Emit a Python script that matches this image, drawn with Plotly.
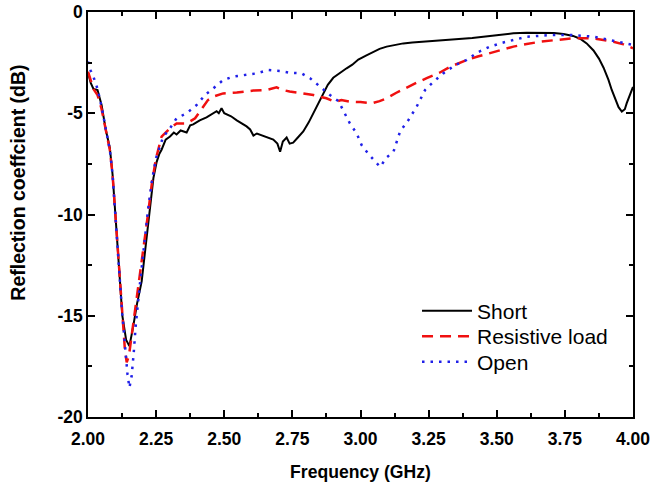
import plotly.graph_objects as go

short_f = [2.000,2.010,2.020,2.035,2.050,2.065,2.080,2.090,2.100,2.112,2.126,2.140,2.152,2.165,2.180,2.197,2.212,2.228,2.240,2.252,2.262,2.270,2.285,2.301,2.315,2.325,2.340,2.362,2.375,2.386,2.410,2.435,2.455,2.472,2.480,2.490,2.500,2.509,2.525,2.546,2.565,2.582,2.595,2.607,2.620,2.643,2.660,2.680,2.695,2.705,2.715,2.729,2.740,2.753,2.770,2.790,2.810,2.827,2.845,2.864,2.880,2.900,2.925,2.949,2.970,2.992,3.020,3.047,3.070,3.096,3.125,3.157,3.190,3.231,3.290,3.353,3.410,3.475,3.520,3.561,3.610,3.659,3.710,3.745,3.780,3.806,3.830,3.855,3.875,3.892,3.910,3.922,3.935,3.947,3.959,3.970,3.977,3.988,4.000]
short_db = [-3.0,-3.5,-3.8,-3.85,-4.6,-5.8,-6.7,-8.0,-9.9,-12.5,-15.0,-16.2,-16.5,-15.6,-14.4,-13.3,-11.5,-9.6,-8.2,-7.4,-7.0,-6.8,-6.3,-6.15,-5.95,-6.05,-5.85,-5.95,-5.6,-5.55,-5.35,-5.2,-5.05,-4.9,-5.0,-4.75,-5.0,-5.05,-5.15,-5.35,-5.5,-5.65,-5.8,-6.1,-6.0,-6.1,-6.2,-6.3,-6.5,-6.9,-6.4,-6.2,-6.5,-6.45,-6.2,-5.9,-5.45,-5.0,-4.5,-4.0,-3.6,-3.25,-3.0,-2.78,-2.6,-2.35,-2.15,-1.96,-1.82,-1.71,-1.62,-1.55,-1.51,-1.47,-1.42,-1.35,-1.28,-1.19,-1.12,-1.05,-1.02,-1.02,-1.04,-1.09,-1.18,-1.32,-1.55,-1.9,-2.3,-2.75,-3.35,-3.85,-4.35,-4.7,-4.92,-4.8,-4.5,-4.1,-3.7]

res_f = [2.000,2.010,2.020,2.035,2.050,2.065,2.080,2.090,2.100,2.112,2.125,2.135,2.142,2.150,2.160,2.175,2.190,2.205,2.220,2.235,2.250,2.270,2.301,2.325,2.362,2.393,2.417,2.440,2.460,2.496,2.546,2.607,2.655,2.692,2.715,2.740,2.780,2.827,2.875,2.906,2.930,2.961,3.000,3.041,3.070,3.096,3.130,3.169,3.205,3.243,3.290,3.329,3.390,3.430,3.475,3.520,3.561,3.610,3.659,3.720,3.781,3.855,3.928,3.965,4.000]
res_db = [-2.95,-3.4,-3.8,-4.1,-4.8,-5.8,-6.8,-8.0,-9.9,-12.5,-15.0,-16.6,-17.3,-17.0,-16.0,-14.5,-13.2,-11.7,-10.0,-8.4,-7.2,-6.16,-5.74,-5.5,-5.5,-5.25,-4.76,-4.35,-4.18,-4.02,-3.98,-3.88,-3.85,-3.72,-3.85,-3.93,-4.0,-4.10,-4.26,-4.43,-4.35,-4.43,-4.45,-4.51,-4.4,-4.26,-4.0,-3.72,-3.5,-3.27,-3.0,-2.70,-2.37,-2.2,-2.04,-1.87,-1.71,-1.58,-1.47,-1.38,-1.30,-1.30,-1.47,-1.6,-1.79]

open_f = [2.000,2.010,2.020,2.035,2.050,2.065,2.080,2.090,2.100,2.112,2.125,2.135,2.145,2.152,2.160,2.168,2.175,2.190,2.205,2.220,2.235,2.250,2.276,2.301,2.325,2.362,2.399,2.429,2.460,2.496,2.533,2.582,2.619,2.662,2.705,2.741,2.784,2.815,2.851,2.888,2.919,2.937,2.961,2.986,3.004,3.029,3.050,3.072,3.096,3.121,3.145,3.176,3.206,3.237,3.268,3.304,3.347,3.390,3.427,3.475,3.520,3.561,3.610,3.695,3.781,3.855,3.916,4.000]
open_db = [-2.45,-2.9,-3.2,-3.8,-4.7,-5.7,-6.8,-8.0,-9.8,-12.3,-14.8,-16.5,-17.9,-18.55,-18.0,-16.8,-15.5,-13.5,-11.6,-9.8,-8.3,-7.2,-6.16,-5.74,-5.25,-5.0,-4.59,-4.10,-3.77,-3.36,-3.19,-3.11,-3.03,-2.86,-2.91,-3.0,-3.03,-3.27,-3.69,-4.1,-4.4,-4.9,-5.5,-6.0,-6.57,-7.01,-7.35,-7.65,-7.18,-6.9,-5.91,-5.33,-4.68,-3.85,-3.44,-3.03,-2.62,-2.37,-2.01,-1.71,-1.52,-1.38,-1.22,-1.14,-1.14,-1.22,-1.38,-1.63]

x_ticks = [2.00, 2.25, 2.50, 2.75, 3.00, 3.25, 3.50, 3.75, 4.00]
x_labels = ["2.00", "2.25", "2.50", "2.75", "3.00", "3.25", "3.50", "3.75", "4.00"]
y_ticks = [0, -5, -10, -15, -20]
y_labels = ["0", "-5", "-10", "-15", "-20"]

FONT = "Arial, Liberation Sans, sans-serif"

fig = go.Figure()
fig.add_trace(go.Scatter(x=short_f, y=short_db, mode="lines", name="Short", legend="legend",
                         line=dict(color="black", width=2)))
fig.add_trace(go.Scatter(x=res_f, y=res_db, mode="lines", name="Resistive load", legend="legend2",
                         line=dict(color="#f01010", width=2.5, dash="11px,7px")))
fig.add_trace(go.Scatter(x=open_f, y=open_db, mode="lines", name="Open", legend="legend3",
                         line=dict(color="#2020e8", width=2.5, dash="2.5px,6px")))

axis_common = dict(showline=True, linecolor="black", linewidth=1.5, mirror="ticks",
                   ticks="inside", ticklen=7, tickwidth=1.5, tickcolor="black",
                   showgrid=False, zeroline=False, automargin=False,
                   tickfont=dict(family=FONT, size=17.5, color="black", weight="bold"))

fig.update_xaxes(range=[2.0, 4.0], tickvals=x_ticks, ticktext=x_labels, ticklabelstandoff=5,
                 minor=dict(ticks="inside", ticklen=4, tickwidth=1.5, tickcolor="black", dtick=0.125, tick0=2.0, showgrid=False),
                 title=dict(text="Frequency (GHz)", font=dict(family=FONT, size=17.6, color="black", weight="bold"), standoff=18),
                 **axis_common)
fig.update_yaxes(range=[-20, 0], tickvals=y_ticks, ticktext=y_labels,
                 minor=dict(ticks="inside", ticklen=4, tickwidth=1.5, tickcolor="black", dtick=2.5, tick0=0, showgrid=False),
                 **axis_common)

fig.add_annotation(text="Reflection coeffcient (dB)", textangle=-90,
                   xref="paper", yref="paper", x=-0.130, y=0.579,
                   xanchor="center", yanchor="middle", showarrow=False,
                   font=dict(family=FONT, size=19.5, color="black", weight="bold"))

leg_common = dict(x=0.6037, xanchor="left", yanchor="top", bgcolor="rgba(0,0,0,0)",
                  font=dict(family=FONT, size=21, color="black"), itemwidth=50)

fig.update_layout(
    width=652, height=486,
    margin=dict(l=88, r=19, t=12, b=69),
    paper_bgcolor="white", plot_bgcolor="white",
    showlegend=True,
    legend=dict(y=0.312, **leg_common),
    legend2=dict(y=0.2494, **leg_common),
    legend3=dict(y=0.1864, **leg_common),
)

fig.write_html("out.html", config={"displayModeBar": False},
               post_script="document.body.style.margin='0';")
